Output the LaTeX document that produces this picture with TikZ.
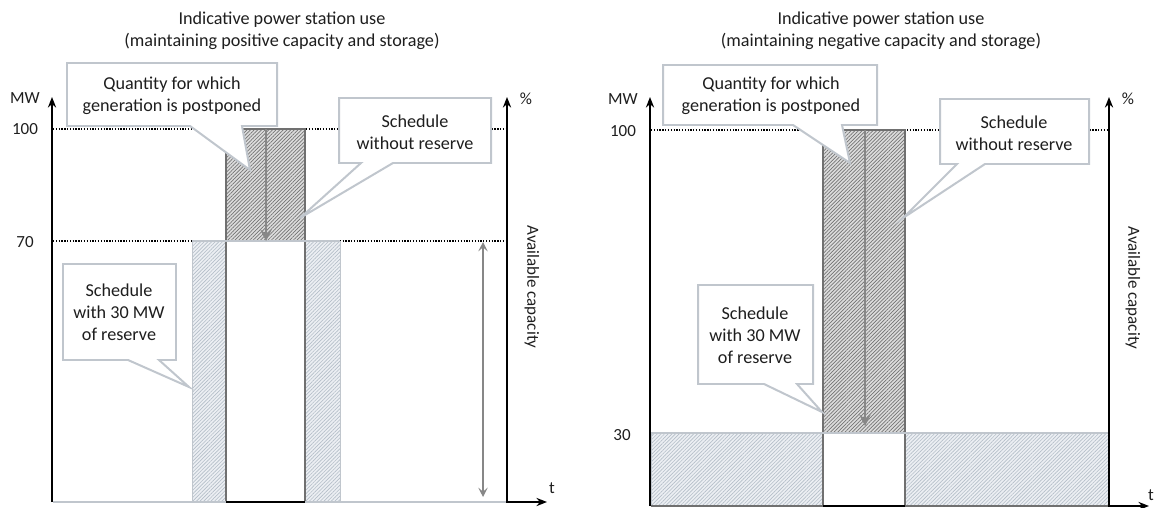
\documentclass[tikz,border=0pt]{standalone}
\usepackage{fontspec}
\setmainfont{Carlito}
\usepackage{xcolor}
\usetikzlibrary{arrows.meta,patterns.meta}

\definecolor{boxline}{RGB}{192,198,205}
\definecolor{lighthatch}{RGB}{180,190,200}
\definecolor{lightfill}{RGB}{236,239,243}
\definecolor{darkhatch}{RGB}{115,115,115}
\definecolor{darkfill}{RGB}{220,220,220}
\definecolor{edgegray}{RGB}{112,112,112}
\definecolor{arrowgray}{RGB}{135,135,135}
\definecolor{textgray}{RGB}{30,30,30}

\tikzset{
  callout/.style={draw=boxline,line width=1.7pt,fill=white,line join=miter},
  boxtext/.style={align=center,text=textgray,font=\fontsize{15.5}{18.7}\selectfont,inner sep=0pt},
  axislabel/.style={text=textgray,font=\fontsize{14.5}{16}\selectfont,inner sep=0pt},
  axis/.style={line width=1.6pt,-{Stealth[length=9pt,width=7pt]}},
  level/.style={line width=0.9pt,dash pattern=on 1.1pt off 1.3pt},
  lighthatched/.style={preaction={fill=lightfill},
    pattern={Lines[angle=45,distance=2.2pt,line width=0.55pt]},pattern color=lighthatch},
  darkhatched/.style={preaction={fill=darkfill},
    pattern={Lines[angle=45,distance=2.2pt,line width=0.6pt]},pattern color=darkhatch},
  shiftarrow/.style={arrowgray,line width=2.3pt,-{Stealth[length=10pt,width=10pt,inset=4pt]}},
}

\begin{document}
\begin{tikzpicture}[x=0.03cm,y=-0.03cm,>=stealth]
  \useasboundingbox (0,0) rectangle (1155,508);

  % --- left: positive capacity ---
  \draw[level] (53,129)--(507,129);
  \draw[level] (53,241)--(507,241);
  \foreach \xa/\xb in {192/226,305/340}{
    \draw[lighthatched,draw=boxline,line width=0.8pt] (\xa,241) rectangle (\xb,502);
  }
  \fill[white] (226,241) rectangle (305,502);
  \draw[darkhatched,draw=edgegray,line width=1.4pt] (226,129) rectangle (305,241);
  \draw[edgegray,line width=1.4pt] (226,129)--(226,502) (305,129)--(305,502);
  \draw[boxline,line width=1.5pt] (192,241)--(340,241);
  \draw[shiftarrow] (266,129)--(266,241);
  \draw[boxline,line width=1.8pt] (53,502)--(507,502);
  \draw[black,line width=1.4pt] (226,502)--(305,502);
  \draw[arrowgray,line width=1.1pt,{Stealth[length=8pt,width=8pt,inset=3.5pt]}-{Stealth[length=8pt,width=8pt,inset=3.5pt]}] (483,242)--(483,497);
  \draw[axis] (52,502)--(52,97);
  \draw[axis] (507,502)--(507,97);
  \draw[axis] (506.2,502)--(547,502);

  % --- right: negative capacity ---
  \draw[level] (651,130)--(1109,130);
  \foreach \xa/\xb in {651/823,905/1109}{
    \draw[lighthatched,draw=boxline,line width=0.8pt] (\xa,433) rectangle (\xb,506);
  }
  \draw[fill=white,draw=edgegray,line width=1.4pt] (823,433) rectangle (905,506);
  \draw[darkhatched,draw=edgegray,line width=1.4pt] (823,130) rectangle (905,433);
  \draw[boxline,line width=1.8pt] (651,433)--(1109,433);
  \draw[shiftarrow] (865,130)--(865,426);
  \draw[edgegray,line width=1.8pt] (651,506)--(1109,506);
  \draw[black,line width=1.4pt] (823,506)--(905,506);
  \draw[axis] (650,506)--(650,97);
  \draw[axis] (1109,506)--(1109,97);
  \draw[axis] (1108.2,506)--(1149,506);

  % callout boxes with pointer below
  \foreach \xa/\ya/\xb/\yb/\pa/\pb/\tx/\ty in {
      67/63/277/126/190/242/250/170,
      339/98/491/163/361/393/300/218,
      63/264/176/360/128/159/189/387,
      663/65/877/125/793/842/850/163,
      940/99/1089/164/957/985/903/218,
      698/285/813/384/764/797/822/412}{
    \draw[callout] (\xa,\ya)--(\xb,\ya)--(\xb,\yb)--(\pb,\yb)--(\tx,\ty)--(\pa,\yb)--(\xa,\yb)--cycle;
  }

  % texts
  \node[boxtext] (titleL) at (282,31) {Indicative power station use\\(maintaining positive capacity and storage)};
  \node[boxtext] (titleR) at (881,31) {Indicative power station use\\(maintaining negative capacity and storage)};
  \node[boxtext] (postponedL) at (172,96) {Quantity for which\\generation is postponed};
  \node[boxtext] (noreserveL) at (415,132) {Schedule\\without reserve};
  \node[boxtext] (reserveL) at (119,312) {Schedule\\with 30 MW\\of reserve};
  \node[boxtext] (postponedR) at (771,96) {Quantity for which\\generation is postponed};
  \node[boxtext] (noreserveR) at (1014,133) {Schedule\\without reserve};
  \node[boxtext] (reserveR) at (755,335) {Schedule\\with 30 MW\\of reserve};

  \node[axislabel] (mwL) at (25,98) {MW};
  \node[axislabel] (hundredL) at (25,129) {100};
  \node[axislabel] (seventyL) at (25,242) {70};
  \node[axislabel] (pctL) at (526,99) {\%};
  \node[axislabel] (tL) at (552,488) {t};
  \node[axislabel,rotate=-90] (capL) at (532,287) {Available capacity};
  \node[axislabel] (mwR) at (623,99) {MW};
  \node[axislabel] (hundredR) at (623,131) {100};
  \node[axislabel] (thirtyR) at (622,435) {30};
  \node[axislabel] (pctR) at (1128,99) {\%};
  \node[axislabel] (tR) at (1151,495) {t};
  \node[axislabel,rotate=-90] (capR) at (1133,288) {Available capacity};
\end{tikzpicture}
\end{document}
